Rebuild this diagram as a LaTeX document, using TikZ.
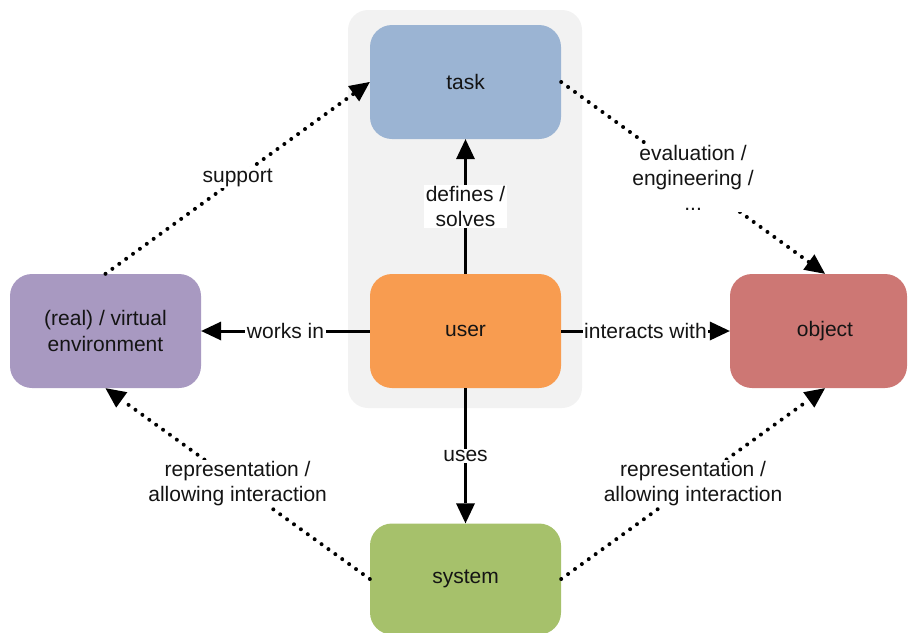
\documentclass[tikz,border=0pt]{standalone}
\usepackage{fontspec}
\setmainfont{Liberation Sans}
\usetikzlibrary{arrows.meta}
\definecolor{taskc}{HTML}{9BB4D3}
\definecolor{userc}{HTML}{F89C50}
\definecolor{sysc}{HTML}{A6C16B}
\definecolor{envc}{HTML}{A899C1}
\definecolor{objc}{HTML}{CD7774}
\definecolor{groupc}{HTML}{F2F2F2}
\definecolor{txt}{HTML}{141414}
\begin{document}
\begin{tikzpicture}[x=1pt,y=-1pt,
  box/.style={rounded corners=22pt, minimum width=191pt, minimum height=114pt, inner sep=0pt, align=center, font=\fontsize{21}{25.2}\selectfont, text=txt},
  tip/.style={-{Triangle[length=20pt,width=19pt,line width=0pt]}},
  solidarrow/.style={line width=3pt, tip},
  dotarrow/.style={line width=4pt, line cap=round, dash pattern=on 0pt off 8.5pt, tip},
  lbl/.style={fill=white, inner sep=1.5pt, align=center, font=\fontsize{21}{25.2}\selectfont, text=txt}
]
\useasboundingbox (0,0) rectangle (909,632);
\clip (0,0) rectangle (909,632);
\fill[groupc, rounded corners=20pt] (348,10) rectangle (582,408);

\node[box, fill=taskc] (task) at (465.5,82) {task};
\node[box, fill=userc] (user) at (465.5,331) {user};
\node[box, fill=sysc, minimum height=111pt] (system) at (465.5,579) {system};
\node[box, fill=envc] (env) at (105.5,331) {(real) / virtual\\environment};
\node[box, fill=objc, minimum width=177pt] (object) at (818.5,331) {\hspace*{13pt}object};

\draw[solidarrow] (user.north) -- node[lbl] {defines /\\solves} (task.south);
\draw[solidarrow] (user.west) -- node[lbl] {works in} (env.east |- user.west);
\draw[solidarrow] (user.east) -- node[lbl] {interacts with} (object.west |- user.east);
\draw[solidarrow] (user.south) -- node[lbl] {uses} (system.north);

\draw[dotarrow] (env.north) -- node[lbl] {support} (task.west);
\draw[dotarrow] (task.east) -- node[lbl] {evaluation /\\engineering /\\...} (object.north -| 825,0);
\draw[dotarrow] (system.west) -- node[lbl] {representation /\\allowing interaction} (env.south);
\draw[dotarrow] (system.east) -- node[lbl] {representation /\\allowing interaction} (object.south -| 825,0);
\end{tikzpicture}
\end{document}
